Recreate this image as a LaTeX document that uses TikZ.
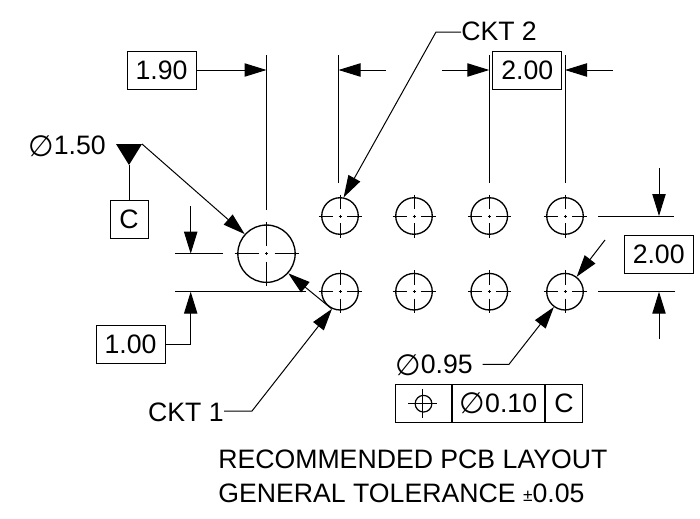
\documentclass[tikz,border=0pt]{standalone}
\usepackage{fontspec}
\setmainfont{Liberation Sans}
\newfontfamily\phifont{DejaVu Sans}
\usetikzlibrary{arrows.meta,positioning}
\newcommand{\diam}{\raisebox{-1pt}{\fontsize{22}{22}\phifont\char"2205}}
\tikzset{
	every node/.style={font=\fontsize{20}{22}\selectfont,inner sep=0pt},
	dimline/.style={line width=0.75pt},
	dimarrow/.style={line width=0.75pt,-{Triangle[length=16.5pt,width=10pt]}},
	dimbox/.style={draw,line width=0.75pt,minimum width=51.75pt,minimum height=28.5pt},
	datumbox/.style={draw,line width=0.75pt,minimum width=28.5pt,minimum height=28.5pt},
	fcfcell/.style={draw,line width=0.75pt,anchor=west,minimum height=28.5pt},
	hole/.style={circle,draw,line width=1pt,minimum size=27.4pt},
	bighole/.style={circle,draw,line width=1pt,minimum size=43pt},
	axis/.style={line width=0.75pt}
}
\newcommand{\holeaxis}[4]{
	\draw [axis] (#1,#2-#3) -- (#1,#2-#4) (#1,#2+#4) -- (#1,#2+#3);
	\draw [axis] (#1-#3,#2) -- (#1-#4,#2) (#1+#4,#2) -- (#1+#3,#2);
	\draw [axis] (#1-1.5,#2) -- (#1+1.5,#2) (#1,#2-1.5) -- (#1,#2+1.5);
}

\begin{document}
\begin{tikzpicture}[x=0.75pt,y=-0.75pt]
	\useasboundingbox (0,0) rectangle (700,518);

	% trous
	\node [bighole] (holeC) at (266.5,253.7) {};
	\node [hole] (holeA1) at (340,216) {};
	\node [hole] (holeA2) at (414,216) {};
	\node [hole] (holeA3) at (489.3,216) {};
	\node [hole] (holeA4) at (565,216) {};
	\node [hole] (holeB1) at (340,291.7) {};
	\node [hole] (holeB2) at (414,291.7) {};
	\node [hole] (holeB3) at (489.3,291.7) {};
	\node [hole] (holeB4) at (565,291.7) {};

	% axes
	\holeaxis{266.5}{253.7}{32}{8}
	\holeaxis{340}{216}{21.5}{7}
	\holeaxis{414}{216}{21.5}{7}
	\holeaxis{489.3}{216}{21.5}{7}
	\holeaxis{565}{216}{21.5}{7}
	\holeaxis{340}{291.7}{21.5}{7}
	\holeaxis{414}{291.7}{21.5}{7}
	\holeaxis{489.3}{291.7}{21.5}{7}
	\holeaxis{565}{291.7}{21.5}{7}

	% cotes du haut
	\node [dimbox] (dimA) at (161.5,70) {1.90};
	\node [dimbox] (dimB) at (527.3,70) {2.00};
	\coordinate (extA) at (266.5,55);
	\coordinate (extAb) at (266.5,210);
	\coordinate (extB) at (338.5,55);
	\coordinate (extBb) at (338.5,183);
	\coordinate (extC) at (489.3,55);
	\coordinate (extCb) at (489.3,183);
	\coordinate (extD) at (565,55);
	\coordinate (extDb) at (565,183);
	\draw [dimline] (extA) -- (extAb);
	\draw [dimline] (extB) -- (extBb);
	\draw [dimline] (extC) -- (extCb);
	\draw [dimline] (extD) -- (extDb);
	\coordinate (tipA) at (266.5,70);
	\coordinate (tipB) at (338.5,70);
	\coordinate (tailB) at (386,70);
	\coordinate (tipC) at (489.3,70);
	\coordinate (tailC) at (442,70);
	\coordinate (tipD) at (565,70);
	\coordinate (tailD) at (612.7,70);
	\draw [dimarrow] (dimA.east) -- (tipA);
	\draw [dimarrow] (tailB) -- (tipB);
	\draw [dimarrow] (tailC) -- (tipC);
	\draw [dimarrow] (tailD) -- (tipD);

	% CKT 2
	\node [anchor=west] (cktB) at (461,31) {CKT 2};
	\coordinate (bendB) at (436,32);
	\draw [dimarrow] (cktB.west |- bendB) -- (bendB) -- (holeA1.79);

	% datum C
	\node [anchor=east] (diamC) at (106,146) {\diam 1.50};
	\coordinate (datumL) at (116,144);
	\coordinate (datumR) at (142,144);
	\coordinate (datumB) at (129,165);
	\fill (datumL) -- (datumR) -- (datumB) -- cycle;
	\node [datumbox] (datumC) at (129,219) {C};
	\draw [dimline] (datumB) -- (datumC);
	\draw [dimarrow] (datumR) -- (holeC.138);

	% cote de gauche
	\node [dimbox] (dimE) at (130.5,344.5) {1.00};
	\coordinate (lineEa) at (175,253.7);
	\coordinate (lineEb) at (223,253.7);
	\coordinate (lineFa) at (175,291.7);
	\coordinate (lineFb) at (306,291.7);
	\draw [dimline] (lineEa) -- (lineEb);
	\draw [dimline] (lineFa) -- (lineFb);
	\coordinate (tailE) at (190.7,206);
	\coordinate (tipE) at (190.7,253.7);
	\coordinate (bendF) at (190.7,344.5);
	\coordinate (tipF) at (190.7,291.7);
	\draw [dimarrow] (tailE) -- (tipE);
	\draw [dimarrow] (dimE.east) -- (bendF) -- (tipF);
	\draw [dimarrow] (holeB1.243) -- (holeC.-42);

	% CKT 1
	\node [anchor=east] (cktA) at (224,412) {CKT 1};
	\coordinate (bendA) at (252,411);
	\draw [dimarrow] (cktA.east |- bendA) -- (bendA) -- (holeB1.245);

	% cote de droite
	\node [dimbox] (dimG) at (658.7,254) {2.00};
	\coordinate (lineGa) at (598,216);
	\coordinate (lineGb) at (674,216);
	\coordinate (lineHa) at (598,291.7);
	\coordinate (lineHb) at (675,291.7);
	\draw [dimline] (lineGa) -- (lineGb);
	\draw [dimline] (lineHa) -- (lineHb);
	\coordinate (tailG) at (659,168);
	\coordinate (tipG) at (659,216);
	\coordinate (tailH) at (659,339);
	\coordinate (tipH) at (659,291.7);
	\draw [dimarrow] (tailG) -- (tipG);
	\draw [dimarrow] (tailH) -- (tipH);
	\coordinate (tailI) at (605,240);
	\draw [dimarrow] (tailI) -- (holeB4.52);

	% diametre et tolerance
	\node [anchor=east] (diamD) at (473,365) {\diam 0.95};
	\coordinate (leadD) at (482.7,364.3);
	\coordinate (bendD) at (509,364.3);
	\draw [dimarrow] (leadD) -- (bendD) -- (holeB4.234);
	\node [fcfcell,minimum width=42pt] (fcfA) at (395,403.7) {};
	\node [fcfcell,minimum width=68.8pt] (fcfB) at (fcfA.east) {\diam 0.10};
	\node [fcfcell,minimum width=28pt] (fcfC) at (fcfB.east) {C};
	\node [circle,draw,line width=0.9pt,minimum size=12.5pt] (posn) at (fcfA) {};
	\draw [axis] (408,403.7) -- (437.4,403.7);
	\draw [axis] (422.7,389) -- (422.7,418.4);

	% notes
	\node [anchor=base west] (noteA) at (218,468.3) {RECOMMENDED PCB LAYOUT};
	\node [anchor=base west] (noteB) at (218,502.5) {GENERAL TOLERANCE {\fontsize{13}{13}\selectfont\raisebox{1pt}{±}}0.05};
\end{tikzpicture}
\end{document}
